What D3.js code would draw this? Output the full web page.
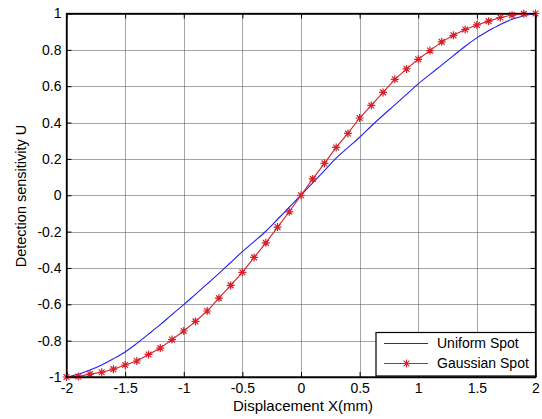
<!DOCTYPE html>
<html>
<head>
<meta charset="utf-8">
<script src="https://cdn.jsdelivr.net/npm/d3@7"></script>
<style>
  html, body { margin: 0; padding: 0; background: #fff; }
  svg { display: block; }
  text { font-family: "Liberation Sans", Arial, Helvetica, sans-serif; fill: #000; }
</style>
</head>
<body>
<svg id="chart" width="542" height="419"></svg>
<script>
// ---- data ----
const xValues = [-2.0, -1.9, -1.8, -1.7, -1.6, -1.5, -1.4, -1.3, -1.2, -1.1, -1.0,
                 -0.9, -0.8, -0.7, -0.6, -0.5, -0.4, -0.3, -0.2, -0.1, 0.0,
                 0.1, 0.2, 0.3, 0.4, 0.5, 0.6, 0.7, 0.8, 0.9, 1.0,
                 1.1, 1.2, 1.3, 1.4, 1.5, 1.6, 1.7, 1.8, 1.9, 2.0];
const uniformSpot = [-1.0, -0.985, -0.962, -0.934, -0.9, -0.862, -0.815, -0.764, -0.712, -0.656, -0.602,
                     -0.545, -0.488, -0.43, -0.37, -0.31, -0.255, -0.198, -0.132, -0.066, 0.0,
                     0.068, 0.136, 0.204, 0.262, 0.319, 0.381, 0.44, 0.497, 0.555, 0.613,
                     0.665, 0.716, 0.768, 0.82, 0.866, 0.905, 0.94, 0.968, 0.988, 1.0];
const gaussianSpot = [-1.0, -0.997, -0.984, -0.974, -0.957, -0.934, -0.912, -0.876, -0.841, -0.794, -0.747,
                      -0.694, -0.637, -0.566, -0.496, -0.424, -0.342, -0.262, -0.175, -0.091, 0.0,
                      0.090, 0.175, 0.263, 0.340, 0.425, 0.494, 0.566, 0.638, 0.695, 0.748,
                      0.796, 0.844, 0.880, 0.912, 0.937, 0.958, 0.978, 0.991, 0.998, 1.0];
const xTicks = [-2, -1.5, -1, -0.5, 0, 0.5, 1, 1.5, 2];
const yTicks = [-1, -0.8, -0.6, -0.4, -0.2, 0, 0.2, 0.4, 0.6, 0.8, 1];
const seriesNames = ["Uniform Spot", "Gaussian Spot"];
const xLabel = "Displacement X(mm)";
const yLabel = "Detection sensitivity U";

// ---- layout ----
const svg = d3.select("#chart");
const L = 66.5, R = 535.5, T = 13.5, B = 377;
const x = d3.scaleLinear().domain([-2, 2]).range([L, R]);
const y = d3.scaleLinear().domain([-1, 1]).range([B, T]);
const fmt = d => (d === 0 ? "0" : String(d));

// grid
const grid = svg.append("g").attr("stroke", "#000").attr("stroke-width", 1)
  .attr("stroke-dasharray", "1,1").attr("opacity", 0.7);
grid.selectAll("line.gx").data(xTicks.slice(1, -1)).join("line")
  .attr("x1", d => Math.round(x(d)) + 0.5).attr("x2", d => Math.round(x(d)) + 0.5)
  .attr("y1", T).attr("y2", B);
grid.selectAll("line.gy").data(yTicks.slice(1, -1)).join("line")
  .attr("y1", d => Math.round(y(d)) + 0.5).attr("y2", d => Math.round(y(d)) + 0.5)
  .attr("x1", L).attr("x2", R);

// axes (inward ticks on all sides)
const tickLen = 5;
const axB = svg.append("g").attr("transform", `translate(0,${B})`)
  .call(d3.axisBottom(x).tickValues(xTicks).tickFormat(fmt).tickSizeInner(-tickLen).tickSizeOuter(0).tickPadding(8));
const axT = svg.append("g").attr("transform", `translate(0,${T})`)
  .call(d3.axisTop(x).tickValues(xTicks).tickFormat("").tickSizeInner(-tickLen).tickSizeOuter(0));
const axL = svg.append("g").attr("transform", `translate(${L},0)`)
  .call(d3.axisLeft(y).tickValues(yTicks).tickFormat(fmt).tickSizeInner(-tickLen).tickSizeOuter(0).tickPadding(5));
const axR = svg.append("g").attr("transform", `translate(${R},0)`)
  .call(d3.axisRight(y).tickValues(yTicks).tickFormat("").tickSizeInner(-tickLen).tickSizeOuter(0));
[axB, axT, axL, axR].forEach(a => {
  a.select(".domain").attr("stroke", "#000").attr("stroke-width", 1.3);
  a.selectAll(".tick line").attr("stroke", "#000");
  a.selectAll("text").attr("font-size", "14px").attr("fill", "#000")
    .style("font-family", "'Liberation Sans', Arial, sans-serif");
});
axB.selectAll(".tick text").attr("dy", "0.71em").attr("y", 6);

// lines
const lineU = d3.line().x((d, i) => x(xValues[i])).y(d => y(d)).curve(d3.curveMonotoneX);
const lineG = d3.line().x((d, i) => x(xValues[i])).y(d => y(d));
const blue = "#1f1fff";
const red = "#d7202a";

svg.append("path").datum(uniformSpot).attr("d", lineU)
  .attr("fill", "none").attr("stroke", blue).attr("stroke-width", 1.1);
svg.append("path").datum(gaussianSpot).attr("d", lineG)
  .attr("fill", "none").attr("stroke", red).attr("stroke-width", 1.1);

const r = 4, dd = 2.9;
const starPath = `M${-r},0L${r},0M0,${-r}L0,${r}M${-dd},${-dd}L${dd},${dd}M${-dd},${dd}L${dd},${-dd}`;
svg.append("g").selectAll("path").data(gaussianSpot).join("path")
  .attr("transform", (d, i) => `translate(${x(xValues[i])},${y(d)})`)
  .attr("d", starPath).attr("fill", "none").attr("stroke", red).attr("stroke-width", 1.2);

// redraw box on top
svg.append("rect").attr("x", L).attr("y", T).attr("width", R - L).attr("height", B - T)
  .attr("fill", "none").attr("stroke", "#000").attr("stroke-width", 1.3);

// axis labels
svg.append("text").attr("x", 303).attr("y", 410.5).attr("text-anchor", "middle")
  .attr("font-size", "15px").text(xLabel);
svg.append("text").attr("transform", "translate(26,196) rotate(-90)").attr("text-anchor", "middle")
  .attr("font-size", "14.5px").text(yLabel);

// legend
const lg = svg.append("g");
lg.append("rect").attr("x", 376).attr("y", 332.5).attr("width", 159.5).attr("height", 43.5)
  .attr("fill", "#fff").attr("stroke", "#000").attr("stroke-width", 1.2);
const legendItems = [
  { name: seriesNames[0], color: blue, marker: false, yy: 343.5 },
  { name: seriesNames[1], color: red, marker: true, yy: 363.5 }
];
legendItems.forEach(it => {
  lg.append("line").attr("x1", 384).attr("x2", 428).attr("y1", it.yy).attr("y2", it.yy)
    .attr("stroke", it.color).attr("stroke-width", 1);
  if (it.marker) {
    lg.append("path").attr("transform", `translate(406.5,${it.yy})`).attr("d", starPath)
      .attr("fill", "none").attr("stroke", it.color).attr("stroke-width", 1.1);
  }
  lg.append("text").attr("x", 437).attr("y", it.yy + 4.5).attr("font-size", "14px").text(it.name);
});
</script>
</body>
</html>
